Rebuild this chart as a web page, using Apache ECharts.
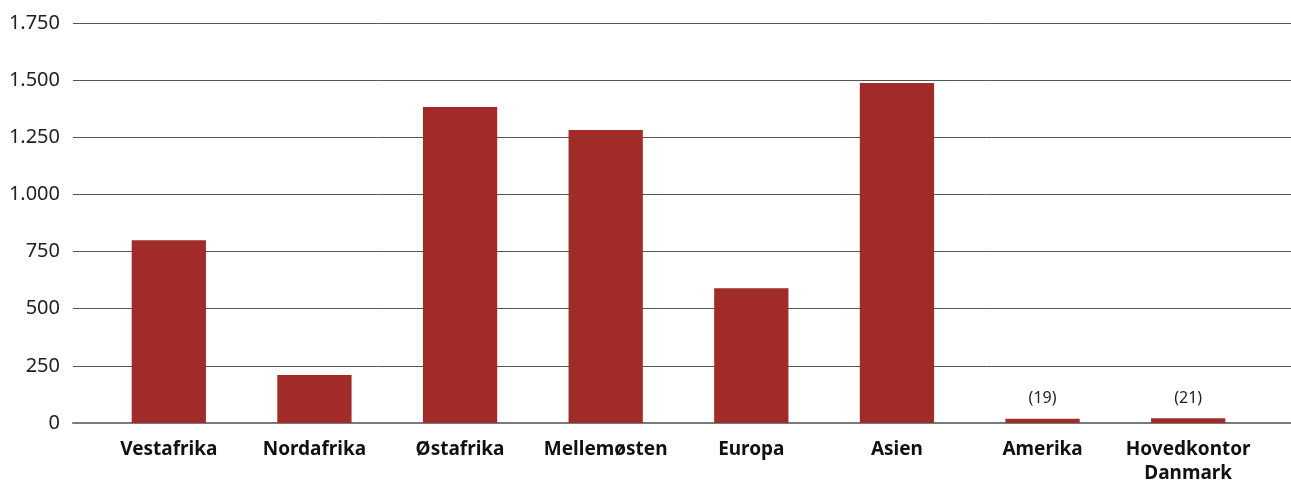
<!DOCTYPE html>
<html><head><meta charset="utf-8">
<script src="https://cdn.jsdelivr.net/npm/echarts@6/dist/echarts.min.js"></script>
<style>html,body{margin:0;padding:0;background:#fff}#c{width:1291px;height:481px}</style>
</head><body><div id="c"></div>
<script>
var categories = ["Vestafrika","Nordafrika","Østafrika","Mellemøsten","Europa","Asien","Amerika","Hovedkontor\nDanmark"];
var values = [800, 210, 1382, 1282, 590, 1487, 19, 21];
var valueLabels = ["","","","","","","(19)","(21)"];
var yTicks = [0, 250, 500, 750, 1000, 1250, 1500, 1750];

var FONT = "Noto Sans";
function fmt(v){ return String(v).replace(/\B(?=(\d{3})+(?!\d))/g, "."); }
var chart = echarts.init(document.getElementById('c'));
chart.setOption({
  animation:false,
  textStyle:{fontFamily:FONT},
  grid:[
    {left:73, right:0, top:23, bottom:58, outerBoundsMode:'none', containLabel:false},
    {left:96, right:30, top:23, bottom:58, outerBoundsMode:'none', containLabel:false}
  ],
  xAxis:[
    {gridIndex:0, type:'category', data:categories,
     axisLine:{show:true, lineStyle:{color:'#7a7a7a', width:2}},
     axisTick:{show:false}, axisLabel:{show:false}},
    {gridIndex:1, type:'category', data:categories,
     axisLine:{show:false}, axisTick:{show:false},
     axisLabel:{interval:0, fontFamily:FONT, fontSize:19, fontWeight:'bold', color:'#111', margin:15, lineHeight:24}}
  ],
  yAxis:[
    {gridIndex:0, type:'value', min:0, max:yTicks[yTicks.length-1], interval:250,
     axisLine:{show:false}, axisTick:{show:false},
     axisLabel:{fontFamily:FONT, fontSize:20, color:'#222', margin:13, formatter:function(v){return fmt(v);}},
     splitLine:{lineStyle:{color:'#555', width:1}}},
    {gridIndex:1, type:'value', min:0, max:yTicks[yTicks.length-1], interval:250, show:false, splitLine:{show:false}}
  ],
  series:[
    {type:'bar', xAxisIndex:1, yAxisIndex:1, data:values, barWidth:'51%',
     itemStyle:{color:'#a02b28'},
     label:{show:true, position:'top', distance:12, fontFamily:FONT, fontSize:16, color:'#222',
            formatter:function(p){return valueLabels[p.dataIndex];}}}
  ]
});
</script></body></html>
